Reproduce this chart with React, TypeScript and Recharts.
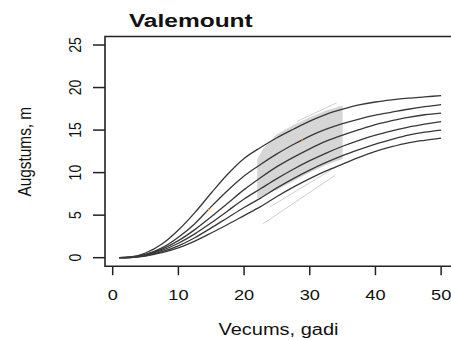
import React from 'react';
import { ComposedChart, Line, Area, XAxis, YAxis, ReferenceArea, Scatter, Customized } from 'recharts';

// Age grid (years) for the six modelled height curves
const ages = [1, 2.5, 5, 7.5, 10, 12.5, 15, 17.5, 20, 22.5, 25, 27.5, 30, 32.5, 35, 37.5, 40, 42.5, 45, 47.5, 50];
const curve1 = [0, 0.05, 0.55, 1.6, 3.25, 5.3, 7.6, 9.8, 11.65, 12.95, 14.1, 15.1, 16.05, 16.85, 17.45, 17.95, 18.3, 18.55, 18.75, 18.9, 19.05];
const curve2 = [0, 0.03, 0.4, 1.15, 2.4, 4.0, 6.0, 7.9, 9.6, 10.95, 12.2, 13.3, 14.3, 15.1, 15.75, 16.3, 16.75, 17.1, 17.45, 17.75, 18.0];
const curve3 = [0, 0.03, 0.35, 1.0, 2.0, 3.3, 4.8, 6.4, 8.0, 9.4, 10.7, 11.8, 12.8, 13.7, 14.4, 15.05, 15.65, 16.1, 16.5, 16.8, 17.0];
const curve4 = [0, 0.02, 0.3, 0.85, 1.7, 2.8, 4.1, 5.5, 6.9, 8.1, 9.3, 10.4, 11.4, 12.3, 13.1, 13.8, 14.4, 14.9, 15.35, 15.7, 16.0];
const curve5 = [0, 0.02, 0.25, 0.7, 1.4, 2.35, 3.5, 4.7, 5.9, 7.0, 8.2, 9.3, 10.3, 11.2, 12.0, 12.7, 13.35, 13.9, 14.4, 14.75, 15.0];
const curve6 = [0, 0.02, 0.2, 0.6, 1.15, 1.95, 2.9, 3.9, 4.95, 6.0, 7.2, 8.3, 9.3, 10.2, 11.0, 11.8, 12.5, 13.05, 13.5, 13.8, 14.05];

// Observed data envelope (gray)
const bandAges = [22, 23, 25, 27.5, 30, 32.5, 35];
const bandLow = [7.0, 7.3, 8.0, 9.0, 10.0, 10.9, 11.6];
const bandHigh = [11.6, 12.9, 14.5, 15.6, 16.5, 17.3, 17.9];

// Individual observed series outside the envelope
const obs1Ages = [22.9, 33.9];
const obs1Heights = [4.0, 9.7];
const obs2Ages = [24, 34.5];
const obs2Heights = [6.0, 10.9];
const obs3Ages = [28, 34.1];
const obs3Heights = [16.0, 18.2];

// Orange points
const dotAges = [14.6, 28.8];
const dotHeights = [5.7, 13.85];

const xTicks = [0, 10, 20, 30, 40, 50];
const yTicks = [0, 5, 10, 15, 20, 25];
const titleText = 'Valemount';
const xLabelText = 'Vecums, gadi';
const yLabelText = 'Augstums, m';

const FONT = '"Liberation Sans", Arial, Helvetica, sans-serif';

const curves = [curve1, curve2, curve3, curve4, curve5, curve6];
const curveData = curves.map((c) => ages.map((a, i) => ({ x: a, y: c[i] })));
const bandData = bandAges.map((a, i) => ({ x: a, band: [bandLow[i], bandHigh[i]] }));
const toPts = (xs: number[], ys: number[]) => xs.map((a, i) => ({ x: a, y: ys[i] }));
const obsLines = [toPts(obs1Ages, obs1Heights), toPts(obs2Ages, obs2Heights), toPts(obs3Ages, obs3Heights)];
const dots = toPts(dotAges, dotHeights);

const XTick = (props: any) => {
  const { x, payload } = props;
  return (
    <text
      transform={`translate(${x},299.5) scale(1.3,1)`}
      textAnchor="middle"
      fontSize={14}
      fontFamily={FONT}
      fill="#111"
    >
      {payload.value}
    </text>
  );
};

const YTick = (props: any) => {
  const { y, payload } = props;
  return (
    <text
      transform={`translate(80.5,${y}) scale(1.22,1) rotate(-90)`}
      textAnchor="middle"
      fontSize={14}
      fontFamily={FONT}
      fill="#111"
    >
      {payload.value}
    </text>
  );
};

const Texts = () => (
  <g>
    <text
      transform="translate(190.8,27) scale(1.29,1)"
      textAnchor="middle"
      fontSize={19}
      fontWeight="bold"
      fontFamily={FONT}
      fill="#111"
    >
      {titleText}
    </text>
    <text
      transform="translate(278.5,335) scale(1.25,1)"
      textAnchor="middle"
      fontSize={16}
      fontFamily={FONT}
      fill="#111"
    >
      {xLabelText}
    </text>
    <text
      transform="translate(30.5,151.7) scale(1.15,1) rotate(-90)"
      textAnchor="middle"
      fontSize={15.4}
      fontFamily={FONT}
      fill="#111"
    >
      {yLabelText}
    </text>
  </g>
);

export default function App() {
  return (
    <div style={{ position: 'absolute', left: 0, top: 0, width: 451, height: 340, overflow: 'hidden', background: '#fff' }}>
      <ComposedChart
        width={460}
        height={340}
        data={bandData}
        margin={{ top: 36.5, right: 6, bottom: 43.8, left: 45 }}
      >
        <XAxis
          dataKey="x"
          type="number"
          domain={[-1.173, 51.96]}
          ticks={xTicks}
          interval={0}
          allowDataOverflow
          axisLine={false}
          tickSize={9}
          tickLine={{ stroke: '#222', strokeWidth: 1.5 }}
          tick={<XTick />}
          height={30}
        />
        <YAxis
          type="number"
          domain={[-1, 26]}
          ticks={yTicks}
          interval={0}
          allowDataOverflow
          axisLine={false}
          tickSize={12}
          tickLine={{ stroke: '#222', strokeWidth: 1.5 }}
          tick={<YTick />}
          width={60}
        />
        <Area
          dataKey="band"
          type="linear"
          fill="#d6d6d6"
          fillOpacity={1}
          stroke="none"
          isAnimationActive={false}
        />
        {obsLines.map((d, i) => (
          <Line
            key={'obs' + i}
            data={d}
            dataKey="y"
            type="linear"
            stroke="#cfcfcf"
            strokeWidth={1}
            dot={false}
            activeDot={false}
            isAnimationActive={false}
          />
        ))}
        {curveData.map((d, i) => (
          <Line
            key={'c' + i}
            data={d}
            dataKey="y"
            type="monotone"
            stroke="#383838"
            strokeWidth={1.3}
            dot={false}
            activeDot={false}
            isAnimationActive={false}
          />
        ))}
        <Scatter
          data={dots}
          dataKey="y"
          fill="#f08a00"
          isAnimationActive={false}
          shape={(p: any) => <circle cx={p.cx} cy={p.cy} r={1} fill="#f08a00" />}
        />
        <ReferenceArea
          x1={-1.173}
          x2={51.96}
          y1={-1}
          y2={26}
          fill="none"
          fillOpacity={0}
          stroke="#222"
          strokeWidth={1.6}
          ifOverflow="visible"
        />
        <Customized component={Texts} />
      </ComposedChart>
    </div>
  );
}
